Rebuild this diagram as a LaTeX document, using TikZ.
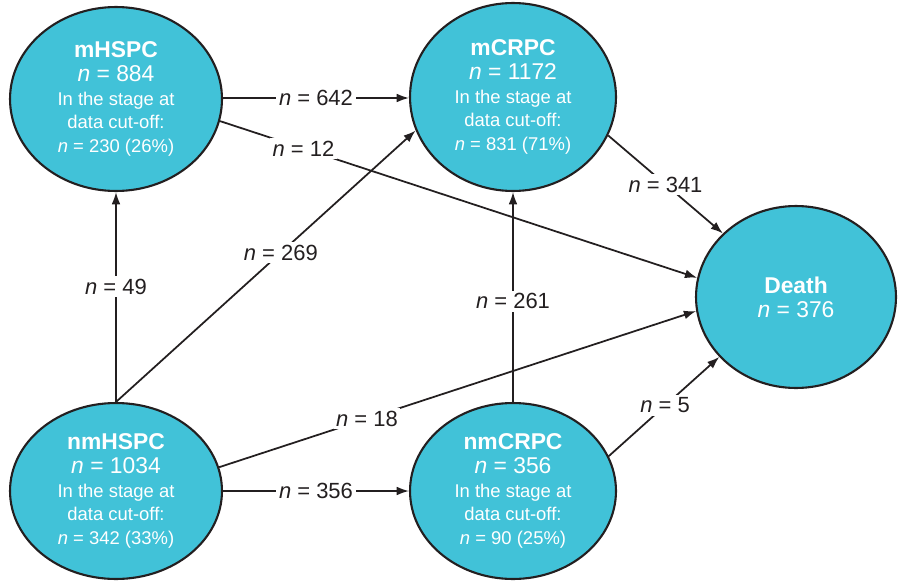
\documentclass[tikz,border=0pt]{standalone}
\usepackage{fontspec}
\setmainfont{Liberation Sans}
\usetikzlibrary{shapes.geometric,arrows.meta}
\definecolor{stagecyan}{HTML}{41C2D8}
\definecolor{inkline}{HTML}{231F20}

\tikzset{
  stage/.style={ellipse, draw=inkline, line width=1.2pt, fill=stagecyan, text=white,
    align=center, inner sep=0pt, minimum width=4.24cm, minimum height=3.68cm,
    font=\fontsize{10.5}{13.6}\selectfont},
  flow/.style={-{Latex[length=7pt,width=5pt]}, draw=inkline, line width=1pt},
  cnt/.style={fill=white, inner sep=1.5pt, text=inkline, font=\fontsize{12.5}{14}\selectfont},
}
\newcommand{\ttl}[1]{{\fontsize{13}{14.5}\selectfont\bfseries #1}}
\newcommand{\tally}[1]{{\fontsize{13}{15}\selectfont #1}}
\newcommand{\nn}{\textit{n}}

\begin{document}
\begin{tikzpicture}[x=0.02cm, y=-0.02cm]
\useasboundingbox (0,0) rectangle (898,581);

\node[stage] (mhspc) at (116,99) {\ttl{mHSPC}\\ \tally{\nn{} = 884}\\ In the stage at\\ data cut-off:\\ \nn{} = 230 (26\%)};
\node[stage, minimum width=4.12cm, minimum height=3.76cm] (mcrpc) at (513,97) {\ttl{mCRPC}\\ \tally{\nn{} = 1172}\\ In the stage at\\ data cut-off:\\ \nn{} = 831 (71\%)};
\node[stage, minimum width=4.0cm, minimum height=3.64cm] (death) at (796,297) {\ttl{Death}\\ \tally{\nn{} = 376}};
\node[stage, minimum height=3.52cm] (nmhspc) at (116,491) {\ttl{nmHSPC}\\ \tally{\nn{} = 1034}\\ In the stage at\\ data cut-off:\\ \nn{} = 342 (33\%)};
\node[stage, minimum width=4.12cm, minimum height=3.52cm] (nmcrpc) at (513,491) {\ttl{nmCRPC}\\ \tally{\nn{} = 356}\\ In the stage at\\ data cut-off:\\ \nn{} = 90 (25\%)};

% transitions between stages
\draw[flow] (mhspc.east |- 0,98) -- node[cnt] {\nn{} = 642} (mcrpc.west |- 0,98);
\draw[flow] (mhspc.-12) -- node[cnt, pos=0.175] {\nn{} = 12} (death.169);
\draw[flow] (mcrpc.-22) -- node[cnt, pos=0.5] {\nn{} = 341} (death.139);
\draw[flow] (nmhspc.north) -- node[cnt, pos=0.55] {\nn{} = 49} (mhspc.south);
\draw[flow] (nmhspc.north) -- node[cnt, pos=0.55] {\nn{} = 269} (mcrpc.-161);
\draw[flow] (nmhspc.13) -- node[cnt, pos=0.31] {\nn{} = 18} (death.188);
\draw[flow] (nmhspc.east) -- node[cnt] {\nn{} = 356} (nmcrpc.west);
\draw[flow] (nmcrpc.north) -- node[cnt, pos=0.48] {\nn{} = 261} (mcrpc.south);
\draw[flow] (nmcrpc.20) -- node[cnt, pos=0.51] {\nn{} = 5} (death.218);
\end{tikzpicture}
\end{document}
